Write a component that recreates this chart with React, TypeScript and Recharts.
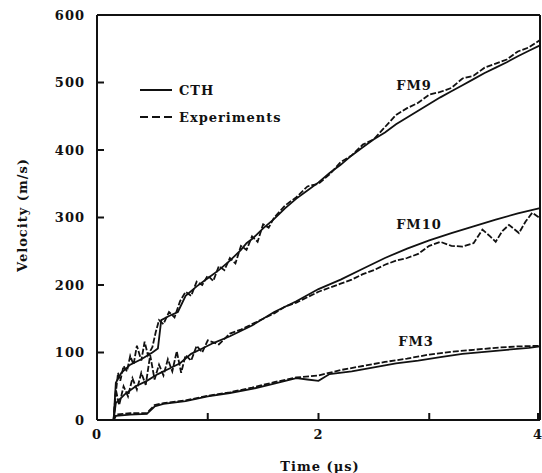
import { LineChart, Line, XAxis, YAxis, ReferenceLine } from "recharts";

const FONT = "'DejaVu Serif', serif";
const INK = "#111";

// time in microseconds, velocity in m/s
const fm9CthTime = [0, 0.15, 0.17, 0.22, 0.3, 0.4, 0.5, 0.55, 0.58, 0.65, 0.73, 0.8, 0.9, 1.0, 1.1, 1.2, 1.3, 1.35, 1.4, 1.5, 1.6, 1.7, 1.8, 1.9, 2.0, 2.1, 2.2, 2.3, 2.4, 2.5, 2.6, 2.7, 2.8, 2.9, 3.0, 3.1, 3.2, 3.3, 3.4, 3.5, 3.6, 3.7, 3.8, 3.9, 4.0];
const fm9CthVel = [0, 0, 55, 70, 82, 90, 100, 106, 148, 154, 160, 184, 198, 210, 222, 236, 252, 262, 268, 284, 298, 314, 328, 340, 352, 366, 378, 392, 404, 416, 426, 438, 448, 458, 468, 478, 487, 496, 505, 514, 522, 530, 539, 547, 555];

const fm9ExpTime = [0, 0.15, 0.17, 0.19, 0.21, 0.24, 0.27, 0.3, 0.33, 0.36, 0.4, 0.43, 0.46, 0.5, 0.53, 0.56, 0.6, 0.65, 0.7, 0.75, 0.8, 0.85, 0.9, 0.95, 1.0, 1.05, 1.1, 1.15, 1.2, 1.25, 1.3, 1.35, 1.4, 1.45, 1.5, 1.55, 1.6, 1.7, 1.8, 1.9, 2.0, 2.1, 2.2, 2.3, 2.4, 2.5, 2.6, 2.7, 2.8, 2.9, 3.0, 3.1, 3.2, 3.3, 3.4, 3.5, 3.6, 3.7, 3.8, 3.9, 4.0];
const fm9ExpVel = [0, 0, 40, 70, 58, 80, 72, 95, 82, 110, 88, 116, 96, 108, 130, 148, 142, 160, 152, 176, 190, 184, 205, 200, 214, 206, 228, 222, 240, 232, 258, 252, 272, 264, 290, 285, 300, 318, 330, 346, 350, 364, 382, 392, 408, 416, 434, 452, 462, 470, 482, 486, 492, 506, 510, 522, 528, 534, 546, 552, 563];

const fm10CthTime = [0, 0.15, 0.17, 0.25, 0.35, 0.45, 0.55, 0.65, 0.75, 0.85, 0.95, 1.05, 1.2, 1.4, 1.6, 1.8, 2.0, 2.2, 2.4, 2.6, 2.8, 3.0, 3.2, 3.4, 3.6, 3.8, 4.0];
const fm10CthVel = [0, 0, 25, 38, 50, 58, 68, 76, 84, 98, 106, 114, 124, 140, 160, 176, 194, 208, 224, 240, 254, 266, 277, 287, 297, 306, 314];

const fm10ExpTime = [0, 0.15, 0.17, 0.2, 0.24, 0.28, 0.32, 0.36, 0.4, 0.44, 0.48, 0.52, 0.56, 0.6, 0.64, 0.68, 0.72, 0.76, 0.8, 0.85, 0.9, 0.95, 1.0, 1.1, 1.2, 1.3, 1.4, 1.5, 1.6, 1.7, 1.8, 1.9, 2.0, 2.1, 2.2, 2.3, 2.4, 2.5, 2.6, 2.7, 2.8, 2.9, 3.0, 3.1, 3.2, 3.3, 3.4, 3.48, 3.55, 3.6, 3.66, 3.72, 3.81, 3.87, 3.93, 4.0];
const fm10ExpVel = [0, 0, 45, 22, 50, 35, 62, 45, 70, 52, 96, 60, 82, 66, 90, 72, 102, 70, 96, 88, 110, 100, 118, 112, 128, 134, 142, 150, 158, 168, 174, 182, 190, 196, 202, 208, 216, 222, 230, 236, 240, 246, 258, 264, 258, 257, 262, 282, 272, 264, 280, 289, 277, 294, 307, 299];

const fm3CthTime = [0, 0.15, 0.17, 0.3, 0.45, 0.52, 0.6, 0.8, 1.0, 1.2, 1.4, 1.6, 1.8, 1.9, 2.0, 2.1, 2.3, 2.5, 2.7, 2.9, 3.1, 3.3, 3.5, 3.7, 3.9, 4.0];
const fm3CthVel = [0, 0, 6, 8, 9, 20, 24, 28, 35, 40, 46, 54, 62, 60, 58, 68, 72, 78, 84, 88, 93, 98, 101, 104, 107, 109];

const fm3ExpTime = [0, 0.15, 0.17, 0.3, 0.45, 0.52, 0.6, 0.8, 1.0, 1.2, 1.4, 1.6, 1.8, 2.0, 2.2, 2.4, 2.6, 2.8, 3.0, 3.2, 3.4, 3.6, 3.8, 4.0];
const fm3ExpVel = [0, 0, 8, 10, 10, 22, 25, 29, 36, 41, 48, 56, 63, 66, 74, 80, 86, 91, 97, 101, 104, 107, 109, 110];

const xTicks = [0, 1, 2, 3, 4];
const xLabels = ["0", "", "2", "", "4"];
const yTicks = [0, 100, 200, 300, 400, 500, 600];

const zip = (t: number[], v: number[]) => t.map((time, i) => ({ t: time, v: v[i] }));

const series = [
  { name: "FM9 CTH", data: zip(fm9CthTime, fm9CthVel), dashed: false },
  { name: "FM9 Exp", data: zip(fm9ExpTime, fm9ExpVel), dashed: true },
  { name: "FM10 CTH", data: zip(fm10CthTime, fm10CthVel), dashed: false },
  { name: "FM10 Exp", data: zip(fm10ExpTime, fm10ExpVel), dashed: true },
  { name: "FM3 CTH", data: zip(fm3CthTime, fm3CthVel), dashed: false },
  { name: "FM3 Exp", data: zip(fm3ExpTime, fm3ExpVel), dashed: true },
];

const tickFont = { fontFamily: FONT, fontSize: 13, fontWeight: 700, fill: INK, letterSpacing: 1 };
const axisLine = { stroke: INK, strokeWidth: 2 };
const TICK_LEN = 7;
const GAP = 12;

// inward tick marks: the label sits GAP away from the axis line, the mark points into the plot
function makeTick(side: "bottom" | "top" | "left" | "right", labels?: (v: number, i: number) => string) {
  return (props: any) => {
    const { x, y, payload, index } = props;
    const label = labels ? labels(payload.value, index) : "";
    if (side === "bottom") {
      const ay = y - GAP;
      return (
        <g>
          <line x1={x} y1={ay} x2={x} y2={ay - TICK_LEN} stroke={INK} strokeWidth={2} />
          <text x={x} y={ay + 14} textAnchor="middle" dominantBaseline="central" style={tickFont}>{label}</text>
        </g>
      );
    }
    if (side === "top") {
      const ay = y + GAP;
      return <line x1={x} y1={ay} x2={x} y2={ay + TICK_LEN} stroke={INK} strokeWidth={2} />;
    }
    if (side === "left") {
      const ax = x + GAP;
      return (
        <g>
          <line x1={ax} y1={y} x2={ax + TICK_LEN} y2={y} stroke={INK} strokeWidth={2} />
          <text x={ax - 12} y={y} textAnchor="end" dominantBaseline="central" style={tickFont}>{label}</text>
        </g>
      );
    }
    const ax = x - GAP;
    return <line x1={ax} y1={y} x2={ax - TICK_LEN} y2={y} stroke={INK} strokeWidth={2} />;
  };
}

export default function App() {
  return (
    <div style={{ position: "absolute", left: 0, top: 0, background: "#fff" }}>
      <LineChart width={542} height={473} margin={{ top: 14, right: 1, bottom: 0, left: 0 }}>
        <XAxis
          xAxisId="b"
          type="number"
          dataKey="t"
          domain={[0, 4]}
          ticks={xTicks}
          height={53}
          tickSize={0}
          tickMargin={GAP}
          tickLine={false}
          tick={makeTick("bottom", (_v, i) => xLabels[i])}
          axisLine={axisLine}
        />
        <XAxis
          xAxisId="t"
          orientation="top"
          type="number"
          domain={[0, 4]}
          ticks={[1, 2, 3]}
          height={1}
          tickSize={0}
          tickMargin={GAP}
          tickLine={false}
          tick={makeTick("top")}
          axisLine={axisLine}
        />
        <YAxis
          yAxisId="l"
          type="number"
          domain={[0, 600]}
          ticks={yTicks}
          width={97}
          tickSize={0}
          tickMargin={GAP}
          tickLine={false}
          tick={makeTick("left", (v) => String(v))}
          axisLine={axisLine}
        />
        <YAxis
          yAxisId="r"
          orientation="right"
          type="number"
          domain={[0, 600]}
          ticks={[100, 200, 300, 400, 500]}
          width={1}
          tickSize={0}
          tickMargin={GAP}
          tickLine={false}
          tick={makeTick("right")}
          axisLine={axisLine}
        />
        {/* box frame on top and right */}
        <ReferenceLine xAxisId="b" yAxisId="l" y={600} stroke={INK} strokeWidth={2} />
        <ReferenceLine xAxisId="b" yAxisId="l" x={4} stroke={INK} strokeWidth={2} />
        {series.map((s) => (
          <Line
            key={s.name}
            xAxisId="b"
            yAxisId="l"
            data={s.data}
            dataKey="v"
            type="linear"
            stroke={INK}
            strokeWidth={1.8}
            strokeDasharray={s.dashed ? "6 2" : undefined}
            dot={false}
            activeDot={false}
            isAnimationActive={false}
          />
        ))}

        {/* legend */}
        <line x1={140} y1={90} x2={172} y2={90} stroke={INK} strokeWidth={2} />
        <text x={179} y={90} dominantBaseline="central" style={tickFont}>CTH</text>
        <line x1={140} y1={117} x2={172} y2={117} stroke={INK} strokeWidth={2} strokeDasharray="8 4" />
        <text x={179} y={117} dominantBaseline="central" style={tickFont}>Experiments</text>

        {/* curve labels */}
        <text x={414} y={85} textAnchor="middle" dominantBaseline="central" style={tickFont}>FM9</text>
        <text x={419} y={224} textAnchor="middle" dominantBaseline="central" style={tickFont}>FM10</text>
        <text x={416} y={341} textAnchor="middle" dominantBaseline="central" style={tickFont}>FM3</text>

        {/* axis titles */}
        <text
          x={22}
          y={215}
          textAnchor="middle"
          dominantBaseline="central"
          transform="rotate(-90 22 215)"
          style={tickFont}
        >
          Velocity (m/s)
        </text>
        <text x={320} y={466} textAnchor="middle" dominantBaseline="central" style={tickFont}>
          Time (μs)
        </text>
      </LineChart>
    </div>
  );
}
